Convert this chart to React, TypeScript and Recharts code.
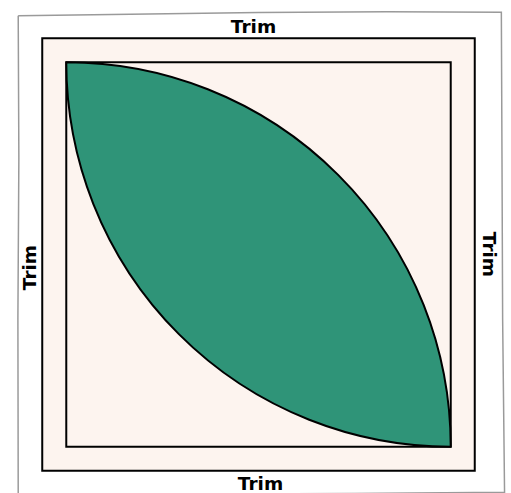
import { ComposedChart, XAxis, YAxis, Line, ReferenceArea } from 'recharts';

// block geometry in inches: finished block, trim line, cut edge
const blockEdges = [0, 12];
const trimEdges = [-0.75, 12.75];
const cutEdges = [-1.5, 13.5];

const trimLabels = ['Trim', 'Trim', 'Trim', 'Trim']; // top, bottom, left, right

// hand-cut outline of the fabric (clockwise from top-left)
const cutX = [-1.5, 2, 6, 10, 13.58, 13.6, 13.62, 13.68, 9, 4, -1.5, -1.51, -1.48, -1.5];
const cutY = [-1.45, -1.5, -1.55, -1.58, -1.56, 3, 8, 13.42, 13.46, 13.48, 13.5, 8, 3, -1.45];
const cutLine = cutX.map((x, i) => ({ x, y: cutY[i] }));

const labelFont = { fontFamily: 'DejaVu Sans', fontWeight: 'bold', fontSize: 18.5, fill: '#000' };

const Lens = (props: any) => {
  const { x, y, width: w, height: h } = props;
  const d = `M${x},${y} A${w},${h} 0 0 1 ${x + w},${y + h} A${w},${h} 0 0 1 ${x},${y} Z`;
  return <path d={d} fill='#2f9478' stroke='#000' strokeWidth={2} strokeLinejoin='round' />;
};

export default function App() {
  return (
    <div
      style={{
        position: 'absolute',
        top: 0,
        left: 0,
        width: 511,
        height: 493,
        overflow: 'hidden',
        background: '#fff',
      }}
    >
      <ComposedChart
        width={512}
        height={508}
        margin={{ top: 1.4, right: 0.4, left: 5.4, bottom: 0.4 }}
      >
        <XAxis type='number' dataKey='x' domain={[-1.9, 13.9]} hide allowDataOverflow />
        <YAxis type='number' dataKey='y' domain={[-1.9, 13.9]} reversed hide allowDataOverflow />
        <ReferenceArea
          x1={trimEdges[0]}
          x2={trimEdges[1]}
          y1={trimEdges[0]}
          y2={trimEdges[1]}
          fill='#fdf4ef'
          fillOpacity={1}
          stroke='#000'
          strokeWidth={2}
        />
        <ReferenceArea
          x1={blockEdges[0]}
          x2={blockEdges[1]}
          y1={blockEdges[0]}
          y2={blockEdges[1]}
          fill='none'
          stroke='#000'
          strokeWidth={2}
        />
        <ReferenceArea
          x1={blockEdges[0]}
          x2={blockEdges[1]}
          y1={blockEdges[0]}
          y2={blockEdges[1]}
          shape={Lens}
        />
        {/* trim labels sit in the margin between trim line and cut edge */}
        <ReferenceArea
          x1={trimEdges[0]}
          x2={trimEdges[1]}
          y1={cutEdges[0]}
          y2={trimEdges[0]}
          fill='none'
          stroke='none'
          label={{ value: trimLabels[0], position: 'center', dx: -5, ...labelFont }}
        />
        <ReferenceArea
          x1={trimEdges[0]}
          x2={trimEdges[1]}
          y1={trimEdges[1]}
          y2={cutEdges[1]}
          fill='none'
          stroke='none'
          label={{ value: trimLabels[1], position: 'center', dx: 2, dy: 1, ...labelFont }}
        />
        <ReferenceArea
          x1={cutEdges[0]}
          x2={trimEdges[0]}
          y1={trimEdges[0]}
          y2={trimEdges[1]}
          fill='none'
          stroke='none'
          label={{ value: trimLabels[2], position: 'center', angle: -90, dy: 13, dx: -1, ...labelFont }}
        />
        <ReferenceArea
          x1={trimEdges[1]}
          x2={cutEdges[1]}
          y1={trimEdges[0]}
          y2={trimEdges[1]}
          fill='none'
          stroke='none'
          label={{ value: trimLabels[3], position: 'center', angle: 90, dx: 3, ...labelFont }}
        />
        <Line
          data={cutLine}
          dataKey='y'
          type='linear'
          stroke='#9a9a9a'
          strokeWidth={1.5}
          dot={false}
          isAnimationActive={false}
        />
      </ComposedChart>
    </div>
  );
}
